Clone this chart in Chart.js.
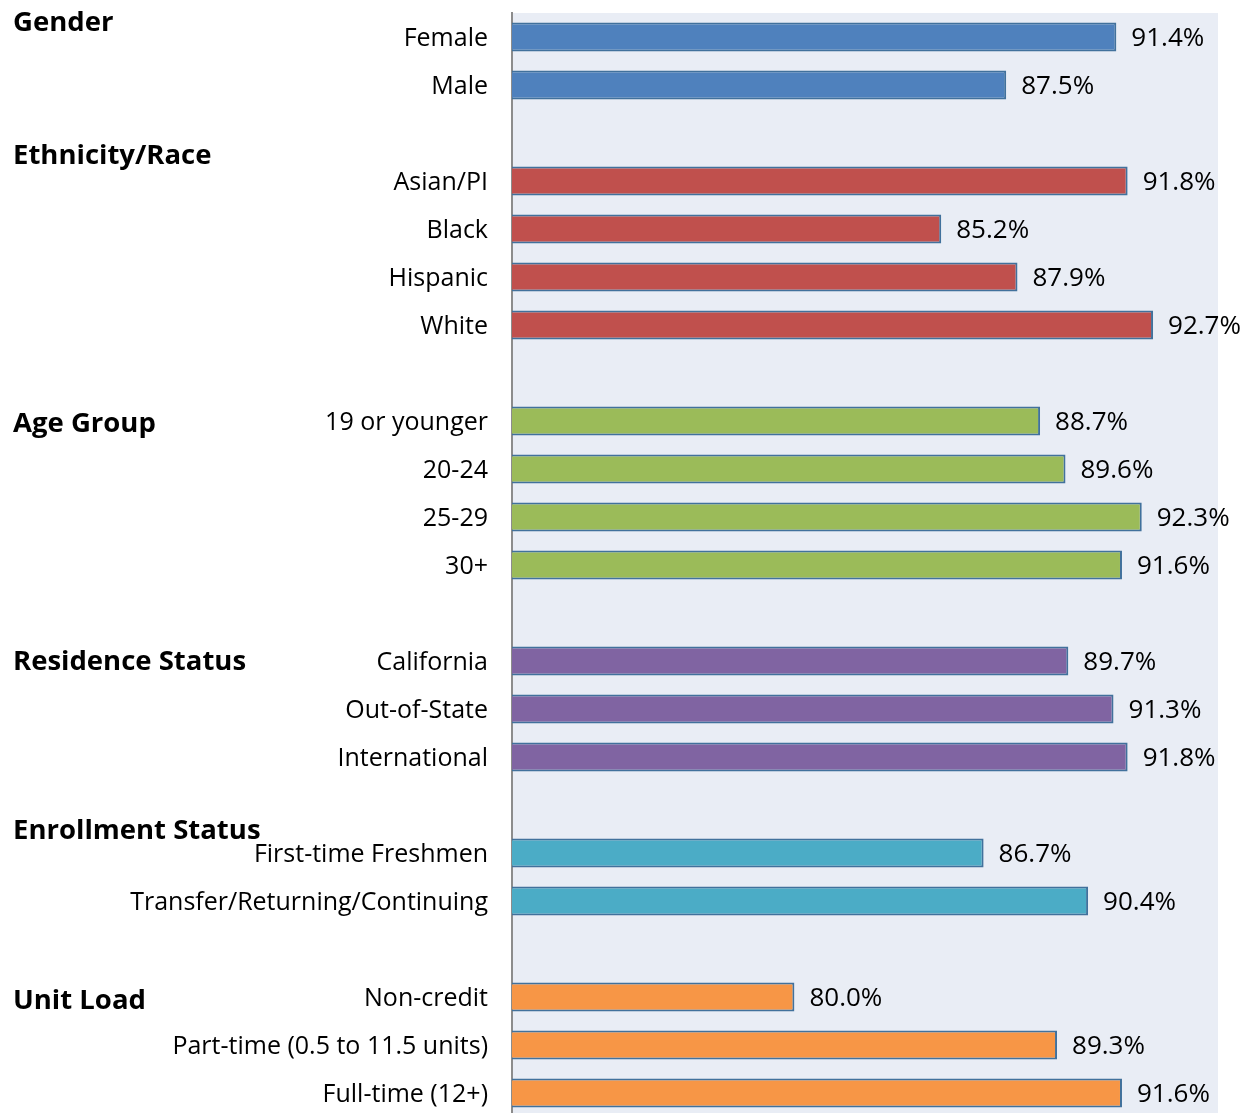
<!DOCTYPE html>
<html>
<head>
<meta charset="utf-8">
<script src="https://cdn.jsdelivr.net/npm/chart.js@4"></script>
<style>
html,body{margin:0;padding:0;background:#fff;overflow:hidden;}
#wrap{width:1248px;height:1117px;}
</style>
</head>
<body>
<div id="wrap"><canvas id="c" width="1248" height="1117"></canvas></div>
<script>
// ---- data ----
const genderLabels = ['Female', 'Male'];
const genderValues = [91.4, 87.5];
const raceLabels = ['Asian/PI', 'Black', 'Hispanic', 'White'];
const raceValues = [91.8, 85.2, 87.9, 92.7];
const ageLabels = ['19 or younger', '20-24', '25-29', '30+'];
const ageValues = [88.7, 89.6, 92.3, 91.6];
const residenceLabels = ['California', 'Out-of-State', 'International'];
const residenceValues = [89.7, 91.3, 91.8];
const enrollLabels = ['First-time Freshmen', 'Transfer/Returning/Continuing'];
const enrollValues = [86.7, 90.4];
const unitLabels = ['Non-credit', 'Part-time (0.5 to 11.5 units)', 'Full-time (12+)'];
const unitValues = [80.0, 89.3, 91.6];

const groupTitles = ['Gender', 'Ethnicity/Race', 'Age Group', 'Residence Status', 'Enrollment Status', 'Unit Load'];
const groupColors = ['#4F81BD', '#C0504D', '#9BBB59', '#8064A2', '#4BACC6', '#F79646'];
// heading vertical position, in category-slot units
const titleSlots = [-0.29, 2.48, 8.06, 13.02, 16.54, 20.08];

const groups = [
  [genderLabels, genderValues],
  [raceLabels, raceValues],
  [ageLabels, ageValues],
  [residenceLabels, residenceValues],
  [enrollLabels, enrollValues],
  [unitLabels, unitValues]
];

// build combined arrays with a blank slot between groups
const categories = [];
const values = [];
const colors = [];
groups.forEach((g, gi) => {
  if (gi > 0) { categories.push(''); values.push(null); colors.push('rgba(0,0,0,0)'); }
  g[0].forEach((lab, i) => {
    categories.push(lab);
    values.push(g[1][i]);
    colors.push(groupColors[gi]);
  });
});

const FONT = "'Open Sans', 'DejaVu Sans', sans-serif";

const plotBg = {
  id: 'plotBg',
  beforeDraw(chart) {
    const {ctx, chartArea: a} = chart;
    ctx.save();
    ctx.fillStyle = '#E9EDF5';
    ctx.fillRect(a.left, a.top, a.right - a.left, a.bottom - a.top);
    ctx.restore();
  }
};

const annotations = {
  id: 'annotations',
  afterDatasetsDraw(chart) {
    const {ctx} = chart;
    const y = chart.scales.y;
    const meta = chart.getDatasetMeta(0);
    ctx.save();
    ctx.fillStyle = '#000';
    ctx.textBaseline = 'middle';
    ctx.textAlign = 'left';
    ctx.font = '26px ' + FONT;
    meta.data.forEach((bar, i) => {
      const v = values[i];
      if (v === null || v === undefined) return;
      ctx.fillText(v.toFixed(1) + '%', bar.x + 15, bar.y + 2);
    });
    // group headings
    const p0 = y.getPixelForValue(0);
    const p1 = y.getPixelForValue(1);
    ctx.font = 'bold 27.5px ' + FONT;
    groupTitles.forEach((t, i) => {
      ctx.fillText(t, 13, p0 + (p1 - p0) * titleSlots[i]);
    });
    ctx.restore();
  }
};

new Chart(document.getElementById('c'), {
  type: 'bar',
  data: {
    labels: categories,
    datasets: [{
      data: values,
      backgroundColor: colors,
      borderColor: '#41719C',
      borderWidth: 2,
      barPercentage: 0.6,
      categoryPercentage: 1.0
    }]
  },
  options: {
    indexAxis: 'y',
    responsive: false,
    animation: false,
    devicePixelRatio: 1,
    layout: { padding: { top: 13, right: 30, left: 0, bottom: 0 } },
    plugins: { legend: { display: false }, tooltip: { enabled: false } },
    scales: {
      x: { min: 70, max: 95, display: false },
      y: {
        grid: { display: false, drawTicks: false },
        border: { display: true, color: '#8C8C8C', width: 2 },
        ticks: { color: '#000', padding: 24, labelOffset: 2, font: { family: FONT, size: 25 }, autoSkip: false },
        afterFit(scale) { scale.width = 512; scale.paddingTop = 0; scale.paddingBottom = 0; }
      }
    }
  },
  plugins: [plotBg, annotations]
});
</script>
</body>
</html>
